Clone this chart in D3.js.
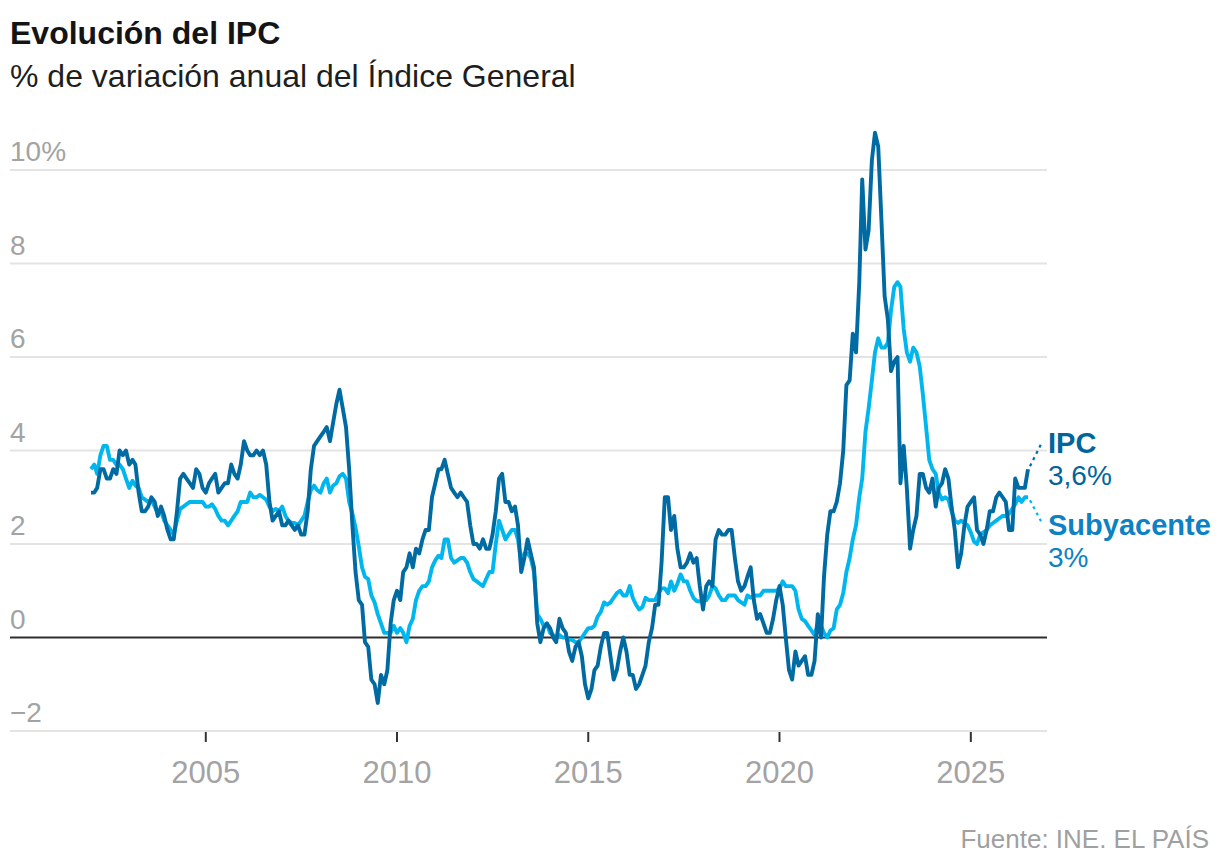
<!DOCTYPE html>
<html>
<head>
<meta charset="utf-8">
<script src="https://d3js.org/d3.v7.min.js"></script>
<style>
    body { margin: 0; background: #fff; }
    svg text { font-family: "Liberation Sans", Arial, sans-serif; }
</style>
</head>
<body>
<div id="chart"></div>
<script>
// monthly values, Jan 2002 .. Jul 2026 (% annual change)
var ipc = [
    3.1,3.1,3.2,3.6,3.6,3.4,3.4,3.6,3.5,4.0,3.9,4.0,
    3.7,3.8,3.7,3.1,2.7,2.7,2.8,3.0,2.9,2.6,2.8,2.6,
    2.3,2.1,2.1,2.7,3.4,3.5,3.4,3.3,3.2,3.6,3.5,3.2,
    3.1,3.3,3.4,3.5,3.1,3.2,3.3,3.3,3.7,3.5,3.4,3.7,
    4.2,4.0,3.9,3.9,4.0,3.9,4.0,3.7,2.9,2.5,2.6,2.7,
    2.4,2.4,2.5,2.4,2.3,2.4,2.2,2.2,2.7,3.6,4.1,4.2,
    4.3,4.4,4.5,4.2,4.6,5.0,5.3,4.9,4.5,3.6,2.4,1.4,
    0.8,0.7,-0.1,-0.2,-0.9,-1.0,-1.4,-0.8,-1.0,-0.7,0.3,0.8,
    1.0,0.8,1.4,1.5,1.8,1.5,1.9,1.8,2.1,2.3,2.3,3.0,
    3.3,3.6,3.6,3.8,3.5,3.2,3.1,3.0,3.1,3.0,2.9,2.4,
    2.0,2.0,1.9,2.1,1.9,1.9,2.2,2.7,3.4,3.5,2.9,2.9,
    2.7,2.8,2.4,1.4,1.7,2.1,1.8,1.5,0.3,-0.1,0.2,0.3,
    0.2,0.0,-0.1,0.4,0.2,0.1,-0.3,-0.5,-0.2,-0.1,-0.4,-1.0,
    -1.3,-1.1,-0.7,-0.6,-0.2,0.1,0.1,-0.4,-0.9,-0.7,-0.3,0.0,
    -0.3,-0.8,-0.8,-1.1,-1.0,-0.8,-0.6,-0.1,0.2,0.7,0.7,1.6,
    3.0,3.0,2.3,2.6,1.9,1.5,1.5,1.6,1.8,1.6,1.7,1.1,
    0.6,1.1,1.2,1.1,2.1,2.3,2.2,2.2,2.3,2.3,1.7,1.2,
    1.0,1.1,1.3,1.5,0.8,0.4,0.5,0.3,0.1,0.1,0.4,0.8,
    1.1,0.7,0.0,-0.7,-0.9,-0.3,-0.6,-0.5,-0.4,-0.8,-0.8,-0.5,
    0.5,0.0,1.3,2.2,2.7,2.7,2.9,3.3,4.0,5.4,5.5,6.5,
    6.1,7.6,9.8,8.3,8.7,10.2,10.8,10.5,8.9,7.3,6.8,5.7,
    5.9,6.0,3.3,4.1,3.2,1.9,2.3,2.6,3.5,3.5,3.2,3.1,
    3.4,2.8,3.2,3.3,3.6,3.4,2.8,2.3,1.5,1.8,2.4,2.8,
    2.9,3.0,2.3,2.2,2.0,2.3,2.7,2.7,3.0,3.1,3.0,2.9,
    2.3,2.3,3.4,3.2,3.2,3.2,3.6
];

var subyacente = [
    3.6,3.7,3.5,3.9,4.1,4.1,3.8,3.8,3.7,3.7,3.6,3.4,
    3.2,3.35,3.25,3.2,3.0,2.95,2.9,2.95,2.8,2.65,2.7,2.5,
    2.4,2.3,2.2,2.5,2.75,2.8,2.85,2.9,2.9,2.9,2.9,2.9,
    2.8,2.8,2.85,2.75,2.6,2.5,2.5,2.4,2.5,2.6,2.7,2.9,
    2.9,2.9,3.1,3.0,3.0,3.05,3.0,2.95,2.8,2.7,2.75,2.7,
    2.8,2.6,2.5,2.45,2.45,2.4,2.5,2.6,2.9,3.15,3.25,3.15,
    3.1,3.3,3.4,3.1,3.25,3.3,3.45,3.5,3.4,2.9,2.65,2.35,
    1.95,1.5,1.3,1.25,0.9,0.75,0.5,0.3,0.1,0.1,0.1,0.25,
    0.1,0.2,0.1,-0.1,0.25,0.4,0.8,1.0,1.1,1.1,1.2,1.5,
    1.65,1.75,1.7,2.1,2.1,1.7,1.6,1.65,1.7,1.7,1.6,1.4,
    1.25,1.2,1.15,1.1,1.25,1.4,1.4,2.0,2.5,2.3,2.1,2.2,
    2.3,2.3,2.1,1.6,1.8,1.8,1.7,1.4,0.5,0.4,0.25,0.3,
    0.1,0.05,0.0,0.05,0.0,0.0,-0.05,-0.05,-0.1,-0.1,0.0,0.1,
    0.2,0.2,0.25,0.45,0.55,0.75,0.7,0.75,0.85,0.95,1.0,0.9,
    0.9,1.1,0.85,0.7,0.6,0.65,0.85,0.8,0.8,0.8,0.95,1.05,
    1.05,0.95,1.2,1.0,1.15,1.35,1.2,1.2,1.0,0.85,0.78,0.77,
    0.8,0.8,0.9,1.1,1.05,0.9,0.8,0.8,0.9,0.9,0.9,0.8,
    0.75,0.7,0.9,0.85,0.9,0.9,0.9,1.0,1.0,1.0,1.0,1.0,
    1.05,1.2,1.1,1.1,1.1,1.0,0.6,0.4,0.35,0.25,0.15,0.05,
    0.3,0.25,0.1,0.0,0.15,0.2,0.6,0.7,0.95,1.4,1.7,2.1,
    2.4,3.0,3.4,4.4,4.9,5.5,6.1,6.4,6.2,6.2,6.3,7.0,
    7.5,7.6,7.5,6.6,6.1,5.9,6.2,6.1,5.8,5.2,4.5,3.8,
    3.6,3.5,3.1,2.95,3.0,2.95,2.7,2.5,2.45,2.5,2.45,2.4,
    2.25,2.05,2.0,2.2,2.25,2.3,2.4,2.45,2.5,2.55,2.6,2.6,
    2.65,2.75,2.85,3.0,2.9,3.0,3.0
];

var yTicks = [-2, 0, 2, 4, 6, 8, 10];
var xTickYears = [2005, 2010, 2015, 2020, 2025];
var seriesLabels = ["IPC", "Subyacente"];
var lastLabels = ["3,6%", "3%"];

var W = 1220, H = 868;
var darkBlue = "#006ba3", lightBlue = "#00b6ef";

var svg = d3.select("#chart").append("svg")
    .attr("width", W).attr("height", H);

// month dates for the series
var dates = d3.range(ipc.length).map(function(i) { return new Date(2002, i, 1); });

var x = d3.scaleTime()
    .domain([new Date(2002, 0, 1), new Date(2026, 6, 1)])
    .range([91, 1028]);
var y = d3.scaleLinear().domain([-2, 10]).range([731, 170]);

// titles
svg.append("text").attr("x", 10).attr("y", 44)
    .attr("font-size", 32).attr("font-weight", "bold").attr("fill", "#141414")
    .text("Evolución del IPC");
svg.append("text").attr("x", 10).attr("y", 87)
    .attr("font-size", 32).attr("fill", "#1e1e1e")
    .text("% de variación anual del Índice General");

// grid + y labels
svg.selectAll(".grid").data(yTicks).enter().append("line")
    .attr("x1", 10).attr("x2", 1047)
    .attr("y1", function(d) { return y(d); }).attr("y2", function(d) { return y(d); })
    .attr("stroke", function(d) { return d === 0 ? "#2e2e2e" : "#e4e4e4"; })
    .attr("stroke-width", 2);

svg.selectAll(".ylab").data(yTicks).enter().append("text")
    .attr("x", 10).attr("y", function(d) { return y(d) - 9; })
    .attr("font-size", 28).attr("fill", "#a3a3a3")
    .text(function(d) {
        if (d === 10) return "10%";
        return d < 0 ? "\u2212" + Math.abs(d) : d;
    });

// x ticks
var xTicks = xTickYears.map(function(yr) { return new Date(yr, 0, 1); });
svg.selectAll(".xtick").data(xTicks).enter().append("line")
    .attr("x1", function(d) { return x(d); }).attr("x2", function(d) { return x(d); })
    .attr("y1", y(-2) + 1).attr("y2", y(-2) + 11)
    .attr("stroke", "#333").attr("stroke-width", 2);
svg.selectAll(".xlab").data(xTicks).enter().append("text")
    .attr("x", function(d) { return x(d); }).attr("y", 783)
    .attr("text-anchor", "middle").attr("font-size", 31).attr("fill", "#a3a3a3")
    .text(function(d) { return d.getFullYear(); });

// lines
var line = d3.line()
    .x(function(d, i) { return x(dates[i]); })
    .y(function(d) { return y(d); });

svg.append("path").datum(subyacente)
    .attr("d", line).attr("fill", "none")
    .attr("stroke", lightBlue).attr("stroke-width", 3.9)
    .attr("stroke-linejoin", "round");
svg.append("path").datum(ipc)
    .attr("d", line).attr("fill", "none")
    .attr("stroke", darkBlue).attr("stroke-width", 3.9)
    .attr("stroke-linejoin", "round");

// end labels with dotted leaders
var n = ipc.length - 1;
var ends = [
    { v: ipc[n], dx: 13, dy: -25, color: darkBlue, lc: "#00659c", name: seriesLabels[0], val: lastLabels[0], ty: 453 },
    { v: subyacente[n], dx: 13, dy: 24, color: lightBlue, lc: "#0a82c4", name: seriesLabels[1], val: lastLabels[1], ty: 535 }
];
ends.forEach(function(e) {
    var x0 = x(dates[n]), y0 = y(e.v);
    svg.append("line")
        .attr("x1", x0 + 2).attr("y1", y0 + (e.dy < 0 ? -3 : 3))
        .attr("x2", x0 + e.dx).attr("y2", y0 + e.dy)
        .attr("stroke", e.color).attr("stroke-width", 2.2)
        .attr("stroke-dasharray", "3,4");
    svg.append("text").attr("x", 1048).attr("y", e.ty)
        .attr("font-size", 29).attr("font-weight", "bold").attr("fill", e.lc)
        .text(e.name);
    svg.append("text").attr("x", 1048).attr("y", e.ty + 32)
        .attr("font-size", 28).attr("fill", e.lc)
        .text(e.val);
});

// source
svg.append("text").attr("x", 1209).attr("y", 848)
    .attr("text-anchor", "end").attr("font-size", 26).attr("fill", "#a0a0a0")
    .text("Fuente: INE. EL PAÍS");
</script>
</body>
</html>
